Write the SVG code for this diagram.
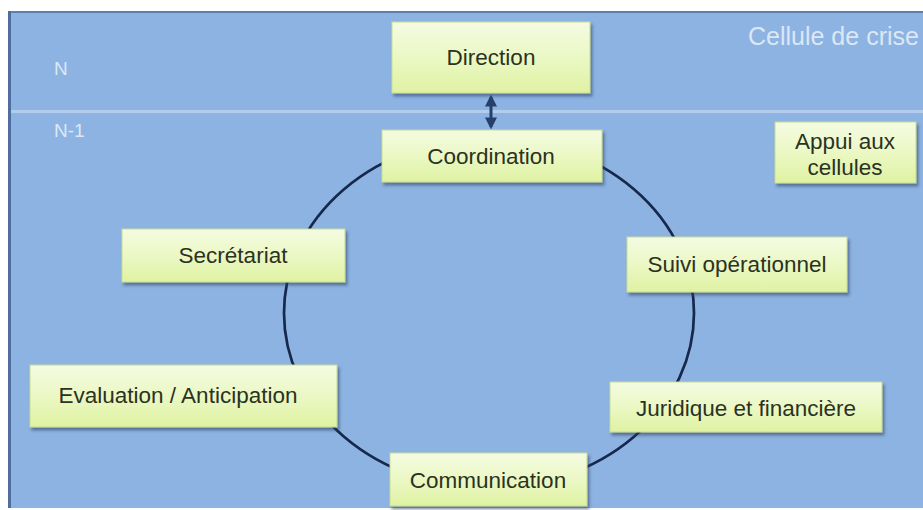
<svg xmlns="http://www.w3.org/2000/svg" width="923" height="510" viewBox="0 0 923 510">
<defs>
<linearGradient id="boxg" x1="0" y1="0" x2="0" y2="1">
<stop offset="0" stop-color="#F4FBE2"/>
<stop offset="0.5" stop-color="#EBF8C4"/>
<stop offset="1" stop-color="#DFF2A2"/>
</linearGradient>
<filter id="sh" x="-10%" y="-20%" width="130%" height="150%">
<feDropShadow dx="2" dy="3" stdDeviation="1.8" flood-color="#2c3e62" flood-opacity="0.55"/>
</filter>
<marker id="ah" viewBox="0 0 10 10" refX="8" refY="5" markerWidth="4" markerHeight="4" orient="auto-start-reverse">
<path d="M0,0 L10,5 L0,10 z" fill="#26406b"/>
</marker>
<style>
.box{fill:url(#boxg);stroke:#C9DB94;stroke-width:1;filter:url(#sh)}
.t{font-family:"Liberation Sans",Arial,sans-serif;font-size:22.5px;fill:#2B321F;text-anchor:middle;dominant-baseline:central}
.lbl{font-family:"Liberation Sans",Arial,sans-serif;fill:#DCE7F6}
</style>
</defs>
<rect x="0" y="0" width="923" height="510" fill="#ffffff"/>
<rect x="8" y="11" width="915" height="497" fill="#8DB3E2"/>
<rect x="8" y="11" width="915" height="2" fill="#5F7FAE"/>
<rect x="8" y="11" width="3" height="497" fill="#4F6E9E"/>
<rect x="11" y="110" width="912" height="3" fill="#B3CCEC"/>
<text class="lbl" x="54" y="75" font-size="19">N</text>
<text class="lbl" x="54" y="137" font-size="19">N-1</text>
<text class="lbl" x="748" y="45" font-size="25">Cellule de crise</text>

<g id="connectors">
<ellipse cx="489" cy="313" rx="205" ry="175" fill="none" stroke="#17284D" stroke-width="2.7"/>
<line x1="491" y1="97" x2="491" y2="127" stroke="#26406b" stroke-width="3" marker-start="url(#ah)" marker-end="url(#ah)"/>
</g>

<g id="direction"><rect class="box" x="392" y="22" width="198" height="71"/><text class="t" x="491" y="57">Direction</text></g>
<g id="coordination"><rect class="box" x="382" y="130" width="220" height="52"/><text class="t" x="491" y="156">Coordination</text></g>
<g id="appui"><rect class="box" x="775" y="122" width="141" height="61"/><text class="t" x="845" y="141">Appui aux</text><text class="t" x="845" y="167">cellules</text></g>
<g id="secretariat"><rect class="box" x="122" y="229" width="223" height="53"/><text class="t" x="233" y="255">Secrétariat</text></g>
<g id="suivi"><rect class="box" x="627" y="237" width="220" height="55"/><text class="t" x="737" y="264">Suivi opérationnel</text></g>
<g id="evaluation"><rect class="box" x="30" y="365" width="307" height="62"/><text class="t" x="178" y="395">Evaluation / Anticipation</text></g>
<g id="juridique"><rect class="box" x="610" y="382" width="272" height="50"/><text class="t" x="746" y="408">Juridique et financière</text></g>
<g id="communication"><rect class="box" x="390" y="453" width="197" height="53"/><text class="t" x="488" y="480">Communication</text></g>
</svg>
